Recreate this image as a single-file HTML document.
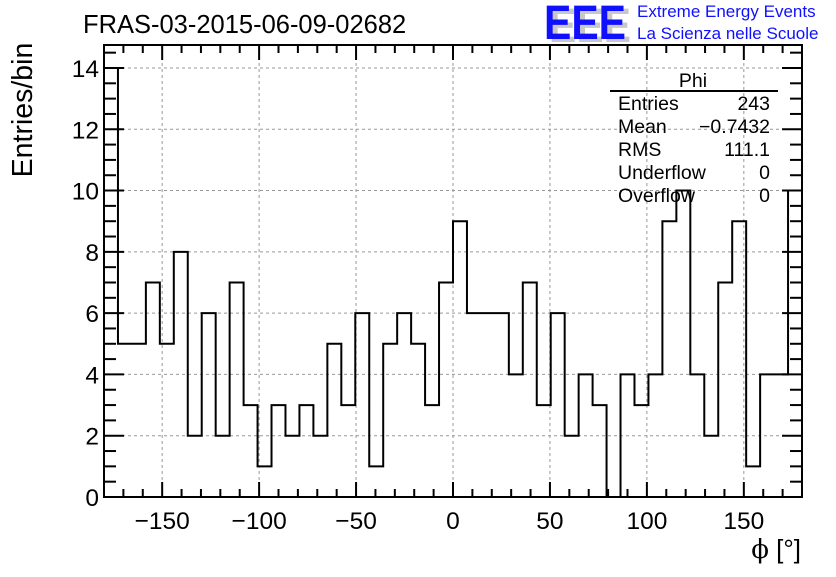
<!DOCTYPE html>
<html><head><meta charset="utf-8"><style>
html,body{margin:0;padding:0;background:#fff;}
svg text{font-family:"Liberation Sans",sans-serif;}
</style></head><body>
<svg id="chart" width="836" height="572" xmlns="http://www.w3.org/2000/svg">
<rect width="836" height="572" fill="#fff"/>
<g id="grid"></g>
<g id="hist"></g>
<g id="axes"></g>
<text x="83" y="33" font-size="25.5" fill="#000">FRAS-03-2015-06-09-02682</text>
<g>
<text x="549" y="42" font-size="48" font-weight="bold" fill="#c8c8c8" textLength="82" lengthAdjust="spacingAndGlyphs">EEE</text>
<text x="544" y="39" font-size="48" font-weight="bold" fill="#1010ff" textLength="82" lengthAdjust="spacingAndGlyphs">EEE</text>
<text x="637" y="17" font-size="17" fill="#1010ff">Extreme Energy Events</text>
<text x="637" y="39" font-size="17" fill="#1010ff">La Scienza nelle Scuole</text>
</g>
<text transform="translate(32,110) rotate(-90)" text-anchor="middle" font-size="28.5">Entries/bin</text>
<text x="801" y="558" text-anchor="end" font-size="26"><tspan style="font-family:'DejaVu Serif',serif">ϕ</tspan> [°]</text>
<g font-size="19.5">
<text x="693" y="87" text-anchor="middle">Phi</text>
<line x1="610" y1="91" x2="778" y2="91" stroke="#000" stroke-width="2"/>
<text x="618" y="110">Entries</text><text x="770" y="110" text-anchor="end">243</text>
<text x="618" y="133">Mean</text><text x="770" y="133" text-anchor="end">−0.7432</text>
<text x="618" y="156">RMS</text><text x="770" y="156" text-anchor="end">111.1</text>
<text x="618" y="179">Underflow</text><text x="770" y="179" text-anchor="end">0</text>
<text x="618" y="202">Overflow</text><text x="770" y="202" text-anchor="end">0</text>
</g>
</svg>
<script>
const binValues=[14,5,5,7,5,8,2,6,2,7,3,1,3,2,3,2,5,3,6,1,5,6,5,3,7,9,6,6,6,4,7,3,6,2,4,3,0,4,3,4,9,10,4,2,7,9,1,4,4,10];
const xRange=[-180,180];
const yRange=[0,14.75];
const xTickLabels=[-150,-100,-50,0,50,100,150];
const yTickLabels=[0,2,4,6,8,10,12,14];
const L=104,R=802,T=45,B=497;
const NS="http://www.w3.org/2000/svg";
const sx=v=>L+(v-xRange[0])/(xRange[1]-xRange[0])*(R-L);
const sy=v=>B-(v-yRange[0])/(yRange[1]-yRange[0])*(B-T);
function mk(tag,attrs,parent){const e=document.createElementNS(NS,tag);for(const k in attrs)e.setAttribute(k,attrs[k]);parent.appendChild(e);return e;}
const grid=document.getElementById('grid'),axes=document.getElementById('axes'),hist=document.getElementById('hist');
xTickLabels.forEach(v=>{const l=mk('line',{x1:sx(v),x2:sx(v),y1:T,y2:B,stroke:'#999','stroke-dasharray':'3,3','stroke-width':1},grid);

});
yTickLabels.forEach(v=>{const l=mk('line',{x1:L,x2:R,y1:sy(v),y2:sy(v),stroke:'#999','stroke-dasharray':'3,3','stroke-width':1},grid);

});
const n=binValues.length,w=(xRange[1]-xRange[0])/n;
let d='M'+sx(xRange[0])+','+sy(0);
binValues.forEach((v,i)=>{d+=' L'+sx(xRange[0]+i*w)+','+sy(v)+' L'+sx(xRange[0]+(i+1)*w)+','+sy(v);});
d+=' L'+sx(xRange[1])+','+sy(0);
const p=mk('path',{d:d,fill:'none',stroke:'#000','stroke-width':2},hist);


const fr=mk('rect',{x:L,y:T,width:R-L,height:B-T,fill:'none',stroke:'#000','stroke-width':2},axes);


for(let v=-180;v<=180;v+=10){const maj=v%50===0;const len=maj?15:8;
mk('line',{x1:sx(v),x2:sx(v),y1:B,y2:B-len,stroke:'#000','stroke-width':2},axes);
mk('line',{x1:sx(v),x2:sx(v),y1:T,y2:T+len,stroke:'#000','stroke-width':2},axes);}
xTickLabels.forEach(v=>{const t=mk('text',{x:sx(v),y:529,'text-anchor':'middle','font-size':24.5},axes);t.textContent=(v<0?'−':'')+Math.abs(v);

});
for(let v=0;v<=14.5;v+=0.5){const maj=v%2===0;const len=maj?20:12;
mk('line',{x1:L,x2:L+len,y1:sy(v),y2:sy(v),stroke:'#000','stroke-width':2},axes);
mk('line',{x1:R,x2:R-len,y1:sy(v),y2:sy(v),stroke:'#000','stroke-width':2},axes);}
yTickLabels.forEach(v=>{const t=mk('text',{x:99,y:sy(v)+9,'text-anchor':'end','font-size':24.5},axes);t.textContent=v;

});
</script>
</body></html>
